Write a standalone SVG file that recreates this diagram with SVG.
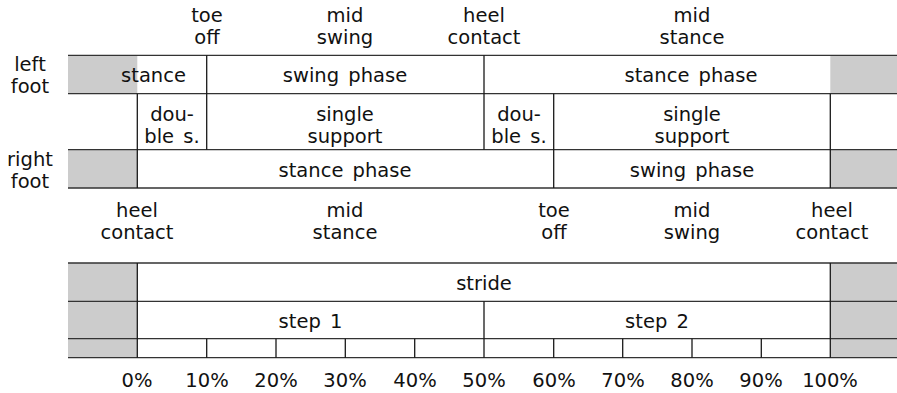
<svg xmlns="http://www.w3.org/2000/svg" width="897" height="393" viewBox="0 0 897 393">
<style>
text{font-family:"DejaVu Sans","Noto Sans",sans-serif;font-size:19.5px;fill:#111;text-anchor:middle;word-spacing:3px}
.g{fill:#cccccc;stroke:none}
.h{stroke:#333;stroke-width:1.3;fill:none}
.v{stroke:#1a1a1a;stroke-width:1.3;fill:none}
</style>
<rect width="897" height="393" fill="#ffffff"/>
<g id="shading">
<rect class="g" x="68" y="55.3" width="69.3" height="38.4"/>
<rect class="g" x="830.3" y="55.3" width="66.7" height="38.4"/>
<rect class="g" x="68" y="149.7" width="69.3" height="38.3"/>
<rect class="g" x="830.3" y="149.7" width="66.7" height="38.3"/>
<rect class="g" x="68" y="263" width="69.3" height="94.7"/>
<rect class="g" x="830.3" y="263" width="66.7" height="94.7"/>
</g>
<g id="connectors">
<path class="h" d="M68 55.3H897M68 93.7H897M68 149.7H897M68 188H897M68 263H897M68 301.3H897M68 338.7H897M68 357.7H897"/>
<path class="v" d="M206.7 55.3V149.7M484 55.3V149.7M137.3 93.7V188M553.7 93.7V188M830.3 93.7V188"/>
<path class="v" d="M137.3 263V357.7M830.3 263V357.7M484 301.3V357.7M206.7 338.7V357.7M276 338.7V357.7M345.3 338.7V357.7M414.7 338.7V357.7M553.7 338.7V357.7M622.7 338.7V357.7M692 338.7V357.7M761.3 338.7V357.7"/>
</g>
<g id="top-events">
<text x="207" y="22">toe</text><text x="207" y="44">off</text>
<text x="345" y="22">mid</text><text x="345" y="44">swing</text>
<text x="484" y="22">heel</text><text x="484" y="44">contact</text>
<text x="692" y="22">mid</text><text x="692" y="44">stance</text>
</g>
<g id="left-foot">
<text x="30" y="71">left</text><text x="30" y="93">foot</text>
<text x="153.5" y="82">stance</text>
<text x="345" y="82">swing phase</text>
<text x="691" y="82">stance phase</text>
</g>
<g id="support">
<text x="172" y="121">dou-</text><text x="172" y="143">ble s.</text>
<text x="345" y="121">single</text><text x="345" y="143">support</text>
<text x="519" y="121">dou-</text><text x="519" y="143">ble s.</text>
<text x="692" y="121">single</text><text x="692" y="143">support</text>
</g>
<g id="right-foot">
<text x="30" y="166">right</text><text x="30" y="188">foot</text>
<text x="345" y="177">stance phase</text>
<text x="692" y="177">swing phase</text>
</g>
<g id="bottom-events">
<text x="137" y="217">heel</text><text x="137" y="239">contact</text>
<text x="345" y="217">mid</text><text x="345" y="239">stance</text>
<text x="554" y="217">toe</text><text x="554" y="239">off</text>
<text x="692" y="217">mid</text><text x="692" y="239">swing</text>
<text x="832" y="217">heel</text><text x="832" y="239">contact</text>
</g>
<g id="stride">
<text x="484" y="290">stride</text>
</g>
<g id="steps">
<text x="310.5" y="328">step 1</text>
<text x="657" y="328">step 2</text>
</g>
<g id="percent">
<text x="137" y="387">0%</text>
<text x="207" y="387">10%</text>
<text x="276" y="387">20%</text>
<text x="345" y="387">30%</text>
<text x="415" y="387">40%</text>
<text x="484" y="387">50%</text>
<text x="554" y="387">60%</text>
<text x="623" y="387">70%</text>
<text x="692" y="387">80%</text>
<text x="761" y="387">90%</text>
<text x="830" y="387">100%</text>
</g>
</svg>
